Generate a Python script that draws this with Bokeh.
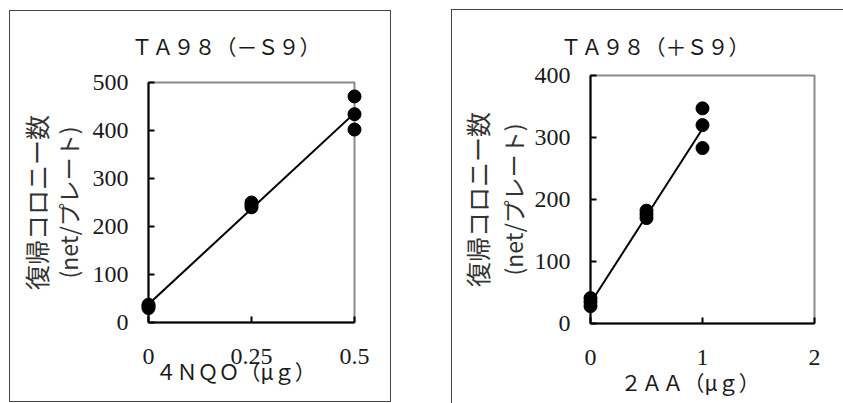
import math
from bokeh.plotting import figure
from bokeh.layouts import row
from bokeh.models import FixedTicker, Range1d
from bokeh.core.properties import value
from bokeh.embed import file_html
from bokeh.resources import INLINE

# ---- data ----
left_title = "ＴＡ９８（－Ｓ９）"
left_xlabel = "４ＮＱＯ（μｇ）"
right_title = "ＴＡ９８（＋Ｓ９）"
right_xlabel = "２ＡＡ（μｇ）"
ylabel_main = "復帰コロニー数"
ylabel_unit = "(net/プレート)"

left_dose = [0, 0, 0, 0.25, 0.25, 0.25, 0.5, 0.5, 0.5]
left_counts = [30, 34, 37, 240, 245, 250, 402, 434, 471]
left_fit_x = [0, 0.5]
left_fit_y = [38, 436]
left_xrange = (0, 0.5)
left_yrange = (0, 500)
left_xticks = [0, 0.25, 0.5]
left_xtick_labels = ["0", "0.25", "0.5"]
left_yticks = [0, 100, 200, 300, 400, 500]

right_dose = [0, 0, 0, 0.5, 0.5, 0.5, 1, 1, 1]
right_counts = [28, 35, 41, 170, 176, 182, 283, 320, 347]
right_fit_x = [0, 1]
right_fit_y = [33, 314]
right_xrange = (0, 2)
right_yrange = (0, 400)
right_xticks = [0, 1, 2]
right_xtick_labels = ["0", "1", "2"]
right_yticks = [0, 100, 200, 300, 400]

SERIF = "Liberation Serif"
CJK = "Noto Sans CJK JP"
TXT = "#1a1a1a"


def panel(w, h, margin, mb, xr, yr, xticks, xlabels, yticks, dose, counts, fx, fy,
          title, xlabel, place, shadow):
    p = figure(width=w, height=h, x_range=Range1d(*xr), y_range=Range1d(*yr),
               output_backend="svg", toolbar_location=None,
               min_border_left=mb[0], min_border_right=mb[1],
               min_border_top=mb[2], min_border_bottom=mb[3], margin=margin)
    p.border_fill_color = None
    p.styles = {"box-shadow": shadow, "background": "white"}
    p.grid.visible = False
    p.outline_line_color = "#8a8a8a"
    p.outline_line_width = 2
    for ax in (p.xaxis[0], p.yaxis[0]):
        ax.axis_line_color = "black"
        ax.axis_line_width = 2
        ax.major_tick_in = 6
        ax.major_tick_out = 0
        ax.major_tick_line_color = "black"
        ax.major_tick_line_width = 2
        ax.minor_tick_line_color = None
        ax.major_label_text_font = SERIF
        ax.major_label_text_font_size = "24px"
        ax.major_label_text_color = TXT
    p.xaxis[0].ticker = FixedTicker(ticks=xticks)
    p.xaxis[0].major_label_overrides = {t: l for t, l in zip(xticks, xlabels)}
    p.xaxis[0].major_label_standoff = 26
    p.yaxis[0].ticker = FixedTicker(ticks=yticks)
    p.yaxis[0].major_label_standoff = 20

    p.line(fx, fy, line_color="black", line_width=2)
    p.scatter(dose, counts, size=13, fill_color="black", line_color="black",
              level="overlay")

    # pixel -> data conversion using the frame size in pixels
    fw = w - mb[0] - mb[1]
    fh = h - mb[2] - mb[3]
    dx = (xr[1] - xr[0]) / fw
    dy = (yr[1] - yr[0]) / fh
    ymid = (yr[0] + yr[1]) / 2
    t_x, t_up, x_x, x_down, main_x, unit_x = place

    def txt(s, x, y, size, align="left", angle=0.0, color=TXT):
        p.text(x=[x], y=[y], text=[s], text_font=value(CJK),
               text_font_size=value(size), text_color=color,
               text_align=align, text_baseline="middle", angle=angle,
               level="overlay")

    txt(title, xr[0] + t_x * dx, yr[1] + t_up * dy, "21px")
    txt(xlabel, xr[0] + x_x * dx, yr[0] - x_down * dy, "21px")
    txt(ylabel_main, xr[0] + main_x * dx, ymid, "25px", "center", math.pi / 2, "#333333")
    txt(ylabel_unit, xr[0] + unit_x * dx, ymid, "23px", "center", math.pi / 2, "#333333")
    return p


left = panel(382, 392, (10, 0, 0, 9), (139, 37, 72, 80), left_xrange, left_yrange,
             left_xticks, left_xtick_labels, left_yticks, left_dose, left_counts,
             left_fit_x, left_fit_y, left_title, left_xlabel,
             (-17, 36.5, 7, 48, -113, -81),
             "inset 0 0 0 1px #444")
right = panel(392, 400, (3, 0, 0, 60), (139, 29, 72, 80), right_xrange, right_yrange,
              right_xticks, right_xtick_labels, right_yticks, right_dose, right_counts,
              right_fit_x, right_fit_y, right_title, right_xlabel,
              (-30, 30, 30, 58, -114, -78),
              "inset 0 6px 0 0 white, inset 0 7px 0 0 #444, inset 1px 0 0 0 #444")

layout = row(left, right)
open("out.html", "w").write(file_html(layout, INLINE))
